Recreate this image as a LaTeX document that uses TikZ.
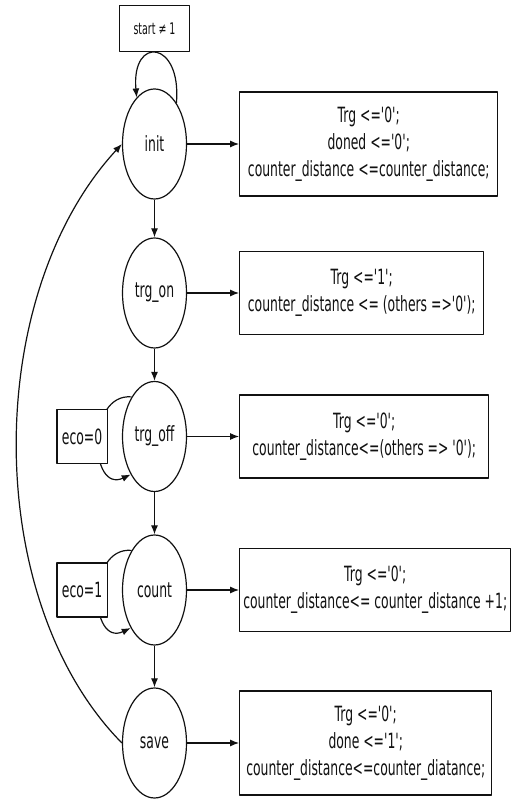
\documentclass[tikz,border=0pt]{standalone}
\usepackage{fontspec}
\newfontfamily\fsmfont{DejaVu Sans}[FakeStretch=0.59]
\usepackage{tikz}
\usetikzlibrary{arrows.meta,positioning,shapes.geometric}
\definecolor{fsmInk}{HTML}{111111}
\tikzset{
  fsm diagram/.style={x=1pt, y=1pt, font=\fsmfont\fontsize{21}{27}\selectfont,
    text=fsmInk, line join=round},
  fsm state/.style={ellipse, draw=fsmInk, line width=1.2pt,
    minimum width=64pt, minimum height=110pt, inner sep=0pt},
  fsm box/.style={draw=fsmInk, line width=1.3pt, align=center,
    inner xsep=3pt, minimum height=83pt},
  fsm cond/.style={draw=fsmInk, fill=white, line width=1.3pt,
    inner xsep=5pt, minimum height=54pt},
  fsm small/.style={font=\fsmfont\fontsize{16}{18}\selectfont},
  fsm arrow/.style={-{Latex[length=9pt,width=7pt]}, draw=fsmInk, line width=1.2pt}
}

\begin{document}
\begin{tikzpicture}[fsm diagram]
\useasboundingbox (0,0) rectangle (513,801);
% states
\node[fsm state] (init) at (154.5,657) {init};
\node[fsm state] (on) at (154.5,508) {trg\_on};
\node[fsm state] (off) at (154.5,364.5) {trg\_off};
\node[fsm state] (count) at (154.5,211) {count};
\node[fsm state] (save) at (154.5,58) {save};
% outputs of each state
\node[fsm box, minimum width=258pt, minimum height=104pt, right=52pt of init] (outinit)
  {Trg <='0';\\doned <='0';\\counter\_distance <=counter\_distance;};
\node[fsm box, minimum width=244pt, right=52pt of on] (outon)
  {Trg <='1';\\counter\_distance <= (others =>'0');};
\node[fsm box, minimum width=249pt, right=52pt of off] (outoff)
  {Trg <='0';\\counter\_distance<=(others => '0');};
\node[fsm box, minimum width=271pt, right=52pt of count] (outcount)
  {Trg <='0';\\counter\_distance<= counter\_distance +1;};
\node[fsm box, minimum width=252pt, minimum height=104pt, right=52pt of save] (outsave)
  {Trg <='0';\\done <='1';\\counter\_distance<=counter\_diatance;};
\foreach \s/\o in {init/outinit,on/outon,off/outoff,count/outcount,save/outsave}
  \draw[fsm arrow] (\s) -- (\o);
% transitions
\foreach \a/\b in {init/on,on/off,off/count,count/save}
  \draw[fsm arrow] (\a) -- (\b);
\draw[fsm arrow] (init.62) to[out=85,in=95,looseness=4] (init.111);
\node[fsm cond, fsm small, minimum width=70pt, minimum height=46pt,
  above=36pt of init] (start) {start ≠ 1};
\draw[fsm arrow] (off.120) to[out=175,in=205,looseness=1.5] (off.238);
\node[fsm cond, left=14pt of off] (eco0) {eco=0};
\draw[fsm arrow] (count.120) to[out=175,in=205,looseness=1.5] (count.238);
\node[fsm cond, left=14pt of count] (eco1) {eco=1};
\draw[fsm arrow] (save.west) .. controls +(-140,142) and +(-140,-152) .. (init.west);
\end{tikzpicture}
\end{document}
